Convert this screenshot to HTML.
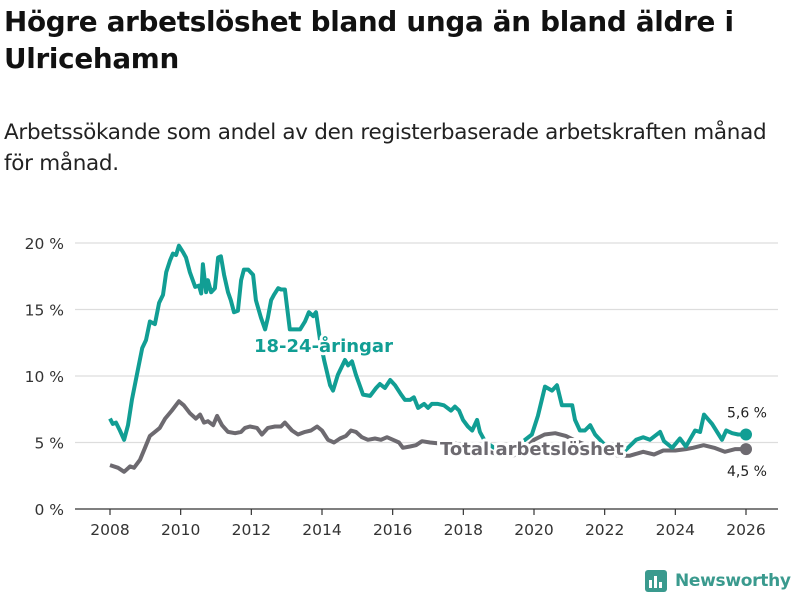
<!DOCTYPE html>
<html><head><meta charset="utf-8">
<style>
body{margin:0;width:800px;height:600px;background:#fff;font-family:"Liberation Sans","DejaVu Sans",sans-serif;overflow:hidden;position:relative}
h1{position:absolute;left:4px;top:3px;margin:0;font-size:27.8px;line-height:37px;font-weight:bold;color:#111;font-family:"DejaVu Sans",sans-serif;letter-spacing:-0.3px;white-space:nowrap}
.sub{position:absolute;left:4px;top:117px;margin:0;font-size:21.5px;line-height:31px;color:#222;font-family:"DejaVu Sans",sans-serif;letter-spacing:-0.3px;white-space:nowrap}
svg{position:absolute;left:0;top:0}
</style></head><body>
<h1>Högre arbetslöshet bland unga än bland äldre i<br>Ulricehamn</h1>
<p class="sub">Arbetssökande som andel av den registerbaserade arbetskraften månad<br>för månad.</p>
<svg id="chart" width="800" height="600"></svg>
<script>
const yTicks=[0,5,10,15,20];
const yTickLabels=["0 %","5 %","10 %","15 %","20 %"];
const xTicks=[2008,2010,2012,2014,2016,2018,2020,2022,2024,2026];
const youthDates=[0,.08,.17,.28,.40,.51,.62,.76,.91,1.02,1.13,1.27,1.39,1.50,1.59,1.70,1.78,1.87,1.95,2.07,2.15,2.26,2.41,2.52,2.58,2.63,2.72,2.77,2.86,2.97,3.06,3.14,3.23,3.34,3.42,3.51,3.62,3.71,3.79,3.91,4.05,4.13,4.27,4.39,4.47,4.56,4.64,4.76,4.84,4.95,5.09,5.38,5.52,5.63,5.75,5.83,5.94,6.06,6.23,6.31,6.45,6.65,6.74,6.85,6.96,7.16,7.36,7.53,7.64,7.78,7.93,8.07,8.24,8.35,8.49,8.60,8.72,8.89,9.00,9.11,9.28,9.45,9.65,9.76,9.88,9.99,10.13,10.25,10.39,10.47,10.59,10.76,11.04,11.32,11.60,11.94,12.11,12.31,12.51,12.65,12.79,12.94,13.08,13.16,13.30,13.44,13.59,13.73,14.01,14.29,14.58,14.89,15.09,15.28,15.57,15.68,15.91,16.13,16.30,16.56,16.70,16.81,17.04,17.32,17.44,17.61,17.78,18.00];
const youthValues=[6.8,6.4,6.5,5.9,5.2,6.3,8.2,10.1,12.1,12.7,14.1,13.9,15.5,16.1,17.8,18.7,19.2,19.1,19.8,19.3,18.9,17.8,16.7,16.8,16.2,18.4,16.3,17.2,16.3,16.6,18.9,19.0,17.6,16.3,15.7,14.8,14.9,17.2,18.0,18.0,17.6,15.7,14.4,13.5,14.4,15.7,16.1,16.6,16.5,16.5,13.5,13.5,14.1,14.8,14.5,14.8,12.8,11.2,9.3,8.9,10.1,11.2,10.8,11.1,10.1,8.6,8.5,9.1,9.4,9.1,9.7,9.3,8.6,8.2,8.2,8.4,7.6,7.9,7.6,7.9,7.9,7.8,7.4,7.7,7.4,6.7,6.2,5.9,6.7,5.8,5.2,4.8,4.3,4.4,4.9,5.6,7.0,9.2,8.9,9.3,7.8,7.8,7.8,6.7,5.9,5.9,6.3,5.6,4.8,4.5,4.4,5.2,5.4,5.2,5.8,5.1,4.6,5.3,4.7,5.9,5.8,7.1,6.4,5.2,5.9,5.7,5.6,5.6];
const totalDates=[0,.23,.40,.57,.68,.85,.99,1.13,1.27,1.41,1.56,1.75,1.95,2.09,2.26,2.43,2.55,2.66,2.77,2.92,3.03,3.17,3.34,3.54,3.71,3.82,3.96,4.16,4.30,4.47,4.67,4.84,4.95,5.15,5.32,5.52,5.69,5.86,6.00,6.17,6.34,6.51,6.68,6.82,6.96,7.13,7.30,7.50,7.67,7.84,8.01,8.18,8.29,8.49,8.66,8.83,9.06,9.4,9.8,10.2,10.6,11.0,11.4,11.7,12.0,12.3,12.6,12.9,13.2,13.6,14.0,14.4,14.7,15.09,15.4,15.66,16.0,16.3,16.5,16.8,17.1,17.4,17.7,18.0];
const totalValues=[3.3,3.1,2.8,3.2,3.1,3.7,4.6,5.5,5.8,6.1,6.8,7.4,8.1,7.8,7.2,6.8,7.1,6.5,6.6,6.3,7.0,6.3,5.8,5.7,5.8,6.1,6.2,6.1,5.6,6.1,6.2,6.2,6.5,5.9,5.6,5.8,5.9,6.2,5.9,5.2,5.0,5.3,5.5,5.9,5.8,5.4,5.2,5.3,5.2,5.4,5.2,5.0,4.6,4.7,4.8,5.1,5.0,4.9,4.9,4.7,4.4,4.1,4.0,4.4,5.2,5.6,5.7,5.5,5.1,4.7,4.3,4.0,4.0,4.3,4.1,4.4,4.4,4.5,4.6,4.8,4.6,4.3,4.5,4.5];
const baseYear=2008;
const NS="http://www.w3.org/2000/svg";
const svg=document.getElementById('chart');
const x=d=>110+(d-2008)*(636/18);
const y=v=>509-v*13.3;
function mk(t,a,txt){const e=document.createElementNS(NS,t);for(const k in a)e.setAttribute(k,a[k]);if(txt!=null)e.textContent=txt;svg.appendChild(e);return e;}
yTicks.forEach((t,i)=>{
  if(t>0){const g=mk('line',{x1:75,x2:778,y1:y(t),y2:y(t),stroke:'#ddd','stroke-width':1.3});
  
  }
  const l=mk('text',{x:64,y:y(t)+6,'text-anchor':'end','font-size':15.5,fill:'#333','font-family':'DejaVu Sans, sans-serif'},yTickLabels[i]);
  
  
});
const ax=mk('line',{x1:75,x2:778,y1:509,y2:509,stroke:'#333','stroke-width':1.2});


xTicks.forEach(t=>{
  const tk=mk('line',{x1:x(t),x2:x(t),y1:509,y2:515,stroke:'#333','stroke-width':1.2});
  
  
  const l=mk('text',{x:x(t),y:535,'text-anchor':'middle','font-size':15.5,fill:'#333','font-family':'DejaVu Sans, sans-serif'},String(t));
  
  
});
function path(ds,vs){return ds.map((d,i)=>(i?'L':'M')+x(baseYear+d).toFixed(1)+','+y(vs[i]).toFixed(1)).join('');}
const tl=mk('path',{d:path(totalDates,totalValues),fill:'none',stroke:'#6d6a70','stroke-width':4,'stroke-linejoin':'round'});


const yl=mk('path',{d:path(youthDates,youthValues),fill:'none',stroke:'#119e94','stroke-width':4,'stroke-linejoin':'round'});


const lt=totalDates.length-1, ly=youthDates.length-1;
const d1=mk('circle',{cx:x(baseYear+youthDates[ly]),cy:y(youthValues[ly]),r:6,fill:'#119e94'});


const d2=mk('circle',{cx:x(baseYear+totalDates[lt]),cy:y(totalValues[lt]),r:6,fill:'#6d6a70'});


const v1=mk('text',{x:767,y:y(youthValues[ly])-17,'text-anchor':'end','font-size':14,fill:'#222','font-family':'DejaVu Sans, sans-serif'},youthValues[ly].toFixed(1).replace('.',',')+' %');


const v2=mk('text',{x:767,y:y(totalValues[lt])+27,'text-anchor':'end','font-size':14,fill:'#222','font-family':'DejaVu Sans, sans-serif'},totalValues[lt].toFixed(1).replace('.',',')+' %');


const sl1=mk('text',{x:254,y:352,'font-size':18,'font-weight':'bold',fill:'#119e94',stroke:'#fff','stroke-width':6,'paint-order':'stroke','stroke-linejoin':'round','font-family':'DejaVu Sans, sans-serif'},'18-24-åringar');


const sl2=mk('text',{x:440,y:455,'font-size':18,'font-weight':'bold',fill:'#6d6a70',stroke:'#fff','stroke-width':6,'paint-order':'stroke','stroke-linejoin':'round','font-family':'DejaVu Sans, sans-serif'},'Total arbetslöshet');


</script>
<div style="position:absolute;left:645px;top:570px;display:flex;align-items:center">
<div style="width:22px;height:22px;background:#3a9a8e;border-radius:3px;position:relative;margin-right:8px">
<div style="position:absolute;left:4px;bottom:4px;width:3px;height:8px;background:#fff"></div>
<div style="position:absolute;left:9px;bottom:4px;width:3px;height:12px;background:#fff"></div>
<div style="position:absolute;left:14px;bottom:4px;width:3px;height:6px;background:#fff"></div>
</div>
<span style="font-family:'DejaVu Sans',sans-serif;font-weight:bold;font-size:17px;color:#3a9a8e;letter-spacing:-0.3px">Newsworthy</span>
</div>
</body></html>
